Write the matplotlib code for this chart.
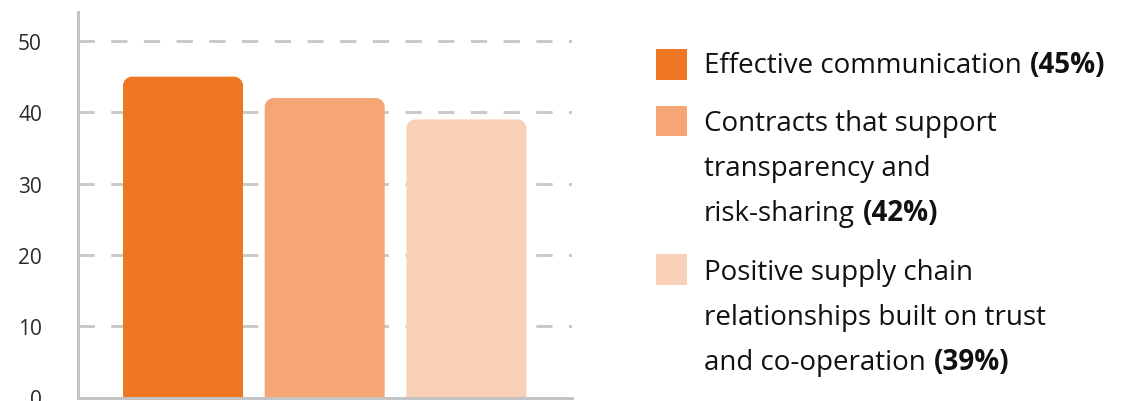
import matplotlib
matplotlib.use("Agg")
import matplotlib.pyplot as plt
from matplotlib.path import Path
from matplotlib.patches import PathPatch, Rectangle

# --- data -------------------------------------------------------------
categories = [
    "Effective communication",
    "Contracts that support transparency and risk-sharing",
    "Positive supply chain relationships built on trust and co-operation",
]
values = [45, 42, 39]
legend_lines = [
    ["Effective communication"],
    ["Contracts that support", "transparency and", "risk-sharing"],
    ["Positive supply chain", "relationships built on trust", "and co-operation"],
]
y_ticks = [0, 10, 20, 30, 40, 50]
colors = ["#EF7724", "#F5A674", "#F9D1B9"]

# --- style ------------------------------------------------------------
plt.rcParams["font.family"] = ["Open Sans", "DejaVu Sans"]
plt.rcParams["lines.scale_dashes"] = False

W, H, DPI = 1126, 402, 100
fig = plt.figure(figsize=(W / DPI, H / DPI), dpi=DPI)

def fx(px):
    return px / W

def fy(py):
    return 1 - py / H

ax_left, ax_right, ax_top, ax_bottom = 78, 572, 13, 398.5
ax = fig.add_axes([fx(ax_left), fy(ax_bottom), fx(ax_right - ax_left), (ax_bottom - ax_top) / H])

px_per_unit_x = 141.7
px_per_unit_y = 7.13
ax.set_xlim(-(183 - ax_left) / px_per_unit_x, (ax_right - 183) / px_per_unit_x)
ax.set_ylim(0, (ax_bottom - ax_top) / px_per_unit_y)

grid_col = "#CACACA"
bars = ax.bar(range(len(values)), values, width=120 / px_per_unit_x, color=colors, zorder=3)

# rounded top corners
radius_px = 9
rx = radius_px / px_per_unit_x
ry = radius_px / px_per_unit_y
k = 0.5523
for rect, c in zip(bars.patches, colors):
    x0 = rect.get_x()
    x1 = x0 + rect.get_width()
    h = rect.get_height()
    verts = [
        (x0, 0), (x0, h - ry),
        (x0, h - ry + k * ry), (x0 + rx - k * rx, h), (x0 + rx, h),
        (x1 - rx, h),
        (x1 - rx + k * rx, h), (x1, h - ry + k * ry), (x1, h - ry),
        (x1, 0), (x0, 0),
    ]
    codes = [Path.MOVETO, Path.LINETO,
             Path.CURVE4, Path.CURVE4, Path.CURVE4,
             Path.LINETO,
             Path.CURVE4, Path.CURVE4, Path.CURVE4,
             Path.LINETO, Path.CLOSEPOLY]
    rect.set_visible(False)
    ax.add_patch(PathPatch(Path(verts, codes), facecolor=c, edgecolor="none", zorder=3))

# dashed gridlines
lw_pt = 3 * 72 / DPI
dash_on = 16.3 * 72 / DPI
dash_off = 16.4 * 72 / DPI
for t in y_ticks[1:]:
    ax.axhline(t, color=grid_col, lw=lw_pt, linestyle=(0, (dash_on, dash_off)), zorder=1)

for s in ["top", "right"]:
    ax.spines[s].set_visible(False)
for s in ["left", "bottom"]:
    ax.spines[s].set_color("#C4C4C4")
    ax.spines[s].set_linewidth(lw_pt)
    ax.spines[s].set_zorder(4)

ax.set_xticks([])
ax.set_yticks(y_ticks)
ax.set_yticklabels([str(t) for t in y_ticks])
ax.tick_params(axis="y", length=0, pad=26, labelsize=15, labelcolor="#2A2A2A")
ax.patch.set_alpha(0)

# --- legend -------------------------------------------------------------
text_x = 704
sq_x, sq_size = 656, 30.5
sq_tops = [50, 106.5, 255]
first_baselines = [73.3, 130.7, 280]
line_gap = 45
fs = 20
txt_col = "#111111"
renderer = fig.canvas.get_renderer()

for i, lines in enumerate(legend_lines):
    fig.patches.append(Rectangle((fx(sq_x), fy(sq_tops[i] + sq_size)), fx(sq_size), sq_size / H,
                                 transform=fig.transFigure, facecolor=colors[i], edgecolor="none"))
    for j, line in enumerate(lines):
        yb = first_baselines[i] + j * line_gap
        t = fig.text(fx(text_x), fy(yb), line, fontsize=fs, va="baseline", ha="left", color=txt_col)
        if j == len(lines) - 1:
            bb = t.get_window_extent(renderer=renderer)
            fig.text(fx(bb.x1 + 8), fy(yb), f"({values[i]}%)", fontsize=fs, fontweight="bold",
                     va="baseline", ha="left", color=txt_col)

fig.savefig("out.png", dpi=DPI)
